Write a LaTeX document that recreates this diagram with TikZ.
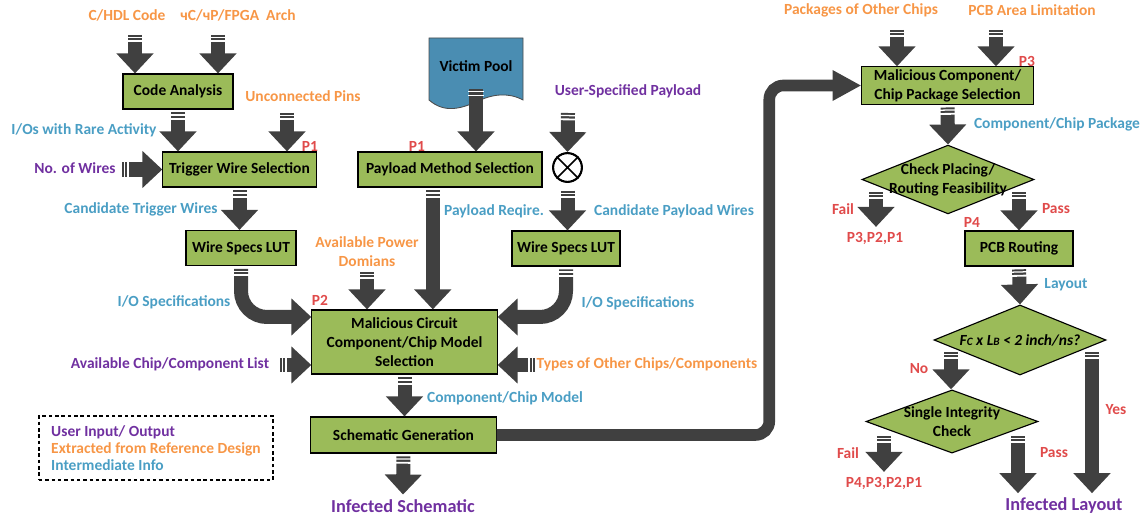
\documentclass[tikz,border=0pt]{standalone}
\usepackage{fontspec}
\setmainfont{Carlito}
\usepackage{xcolor}
\usepackage{tikz}
\usetikzlibrary{shapes,arrows,arrows.meta}
\definecolor{boxgreen}{HTML}{9BBB59}
\definecolor{arrowgray}{HTML}{404040}
\definecolor{userpurple}{HTML}{7030A0}
\definecolor{reforange}{HTML}{F79646}
\definecolor{infoblue}{HTML}{4A9EC4}
\definecolor{tagred}{HTML}{E04B4B}
\definecolor{poolblue}{HTML}{4A8DB2}
\tikzstyle{block} = [rectangle, draw, fill=boxgreen, line width=0.8pt, text centered, align=center, minimum height=0.875cm, inner sep=1pt]
\tikzstyle{decision} = [diamond, draw, fill=boxgreen, line width=0.8pt, align=center, aspect=2.5, inner sep=-7pt, minimum width=4.3cm, minimum height=1.72cm]
\tikzstyle{fat} = [draw=arrowgray, line width=0.35cm, -{Triangle[width=0.9cm,length=0.5cm]}, postaction={draw=white, -, line width=0.4cm, dash pattern=on 0pt off 1.4pt on 0.9pt off 1.6pt on 1.3pt off 200cm}]
\tikzstyle{bus} = [draw=arrowgray, line width=0.29cm, rounded corners=0.35cm, -{Triangle[width=0.72cm,length=0.72cm]}]
\tikzstyle{usertxt} = [text=userpurple]
\tikzstyle{reftxt} = [text=reforange]
\tikzstyle{infotxt} = [text=infoblue]
\tikzstyle{ptxt} = [text=tagred]
\tikzstyle{big} = [font=\bfseries\fontsize{13}{15}\selectfont]

\begin{document}
\begin{tikzpicture}[x=0.025cm, y=-0.025cm, font=\bfseries\fontsize{11}{13.5}\selectfont]
\useasboundingbox (0,0) rectangle (1146,519);

\node [block, minimum width=2.75cm] (code) at (178,91.5) {Code Analysis};
\node [block, minimum width=3.83cm] (trig) at (239.5,169.5) {Trigger Wire Selection};
\node [block, minimum width=2.75cm] (wsl) at (241,248) {Wire Specs LUT};
\node [block, minimum width=4.6cm] (pay) at (450,169.5) {Payload Method Selection};
\node [block, minimum width=2.7cm] (wsr) at (566,248.5) {Wire Specs LUT};
\node [block, minimum width=4.63cm, minimum height=1.6cm] (mal) at (404.5,342) {Malicious Circuit\\Component/Chip Model\\Selection};
\node [block, minimum width=4.63cm, minimum height=0.9cm] (sch) at (403.5,435) {Schematic Generation};
\node [block, minimum width=4.28cm, minimum height=0.93cm] (pkg) at (947.5,85.5) {Malicious Component/\\Chip Package Selection};
\node [block, minimum width=2.7cm] (pcb) at (1019,248.5) {PCB Routing};
\node [decision] (chk) at (948,179.5) {Check Placing/\\Routing Feasibility};
\node [decision, minimum height=1.75cm] (fc) at (1020,340) {\itshape F{\fontsize{8}{9}\selectfont C} x L{\fontsize{8}{9}\selectfont B} < 2 inch/ns?};
\node [decision, minimum height=1.58cm] (sic) at (952,421.5) {Single Integrity\\Check};
\node [circle, draw, line width=1.5pt, minimum size=0.72cm, inner sep=0pt] (mix) at (567.5,167.5) {};
\draw [line width=1.2pt] (mix.north west) -- (mix.south east) (mix.north east) -- (mix.south west);

\path [fill=poolblue, draw=black!70, line width=0.6pt] (429,38) -- (523,38) -- (523,100) .. controls (508,92) and (492,94) .. (476,102) .. controls (462,108) and (445,114) .. (429,100) -- cycle;
\node (pool) at (476,66) {Victim Pool};

\node [reftxt] (hdl) at (127,15) {C/HDL Code};
\node [reftxt] (arch) at (238,15) {чC/чP/FPGA\ \ Arch};
\node [reftxt] (pins) at (303,96) {Unconnected Pins};
\node [infotxt] (rare) at (84,130) {I/Os with Rare Activity};
\node [ptxt] (p1a) at (310,146) {P1};
\node [usertxt] (wires) at (75,168) {No. of Wires};
\node [infotxt] (ctw) at (141,209) {Candidate Trigger Wires};
\node [infotxt] (iosl) at (174,302) {I/O Specifications};
\node [ptxt] (p2) at (320,300) {P2};
\node [usertxt] (list) at (170,364) {Available Chip/Component List};
\node [reftxt, align=center] (pwr) at (367,252) {Available Power\\Domians};
\node [infotxt] (iosr) at (638,303) {I/O Specifications};
\node [reftxt] (types) at (647,364) {Types of Other Chips/Components};
\node [infotxt] (ccm) at (505,398) {Component/Chip Model};
\node [usertxt, big] (infsch) at (403,506) {Infected Schematic};
\node [infotxt] (preq) at (494,211) {Payload Reqire.};
\node [infotxt] (cpw) at (674,211) {Candidate Payload Wires};
\node [usertxt] (usp) at (628,91) {User-Specified Payload};
\node [ptxt] (p1b) at (417,146) {P1};
\node [reftxt] (pkgs) at (861,10) {Packages of Other Chips};
\node [reftxt] (area) at (1032,10) {PCB Area Limitation};
\node [ptxt] (p3) at (1027,61) {P3};
\node [infotxt] (ccp) at (1057,124) {Component/Chip Package};
\node [ptxt] (fail1) at (843,209) {Fail};
\node [ptxt] (back1) at (875,238) {P3,P2,P1};
\node [ptxt] (pass1) at (1056,209) {Pass};
\node [ptxt] (p4) at (972,222) {P4};
\node [infotxt] (lay) at (1066,285) {Layout};
\node [ptxt] (no) at (919,369) {No};
\node [ptxt] (yes) at (1116,410) {Yes};
\node [ptxt] (fail2) at (848,453) {Fail};
\node [ptxt] (pass2) at (1054,453) {Pass};
\node [ptxt] (back2) at (884,483) {P4,P3,P2,P1};
\node [usertxt, big] (inflay) at (1064,506) {Infected Layout};
\node [draw, line width=1.6pt, dash pattern=on 2.5pt off 2pt, align=left, minimum width=5.85cm, minimum height=1.6cm, font=\bfseries\fontsize{11}{12}\selectfont] (legend) at (156,448) {\textcolor{userpurple}{User Input/ Output}\\\textcolor{reforange}{Extracted from Reference Design}\\\textcolor{infoblue}{Intermediate Info}};

\coordinate (hdl-in) at (135,35);
\coordinate (arch-in) at (218,35);
\coordinate (pins-in) at (287,113);
\coordinate (wires-in) at (122,169.5);
\coordinate (pwr-in) at (367,272);
\coordinate (user-in) at (568,113);
\coordinate (list-in) at (280,365);
\coordinate (types-in) at (535,365);
\coordinate (pkgs-in) at (897,30);
\coordinate (area-in) at (996,30);
\coordinate (fail-a) at (876,192);
\coordinate (pass-a) at (1019,192);
\coordinate (no-a) at (951,352);
\coordinate (yes-a) at (1092,352);
\coordinate (fail-b) at (884,436);
\coordinate (pass-b) at (1018,436);

\path [fat] (hdl-in) -- (hdl-in |- code.north);
\path [fat] (arch-in) -- (arch-in |- code.north);
\path [fat, shorten <=2pt] (code.south) -- (code.south |- trig.north);
\path [fat] (pins-in) -- (pins-in |- trig.north);
\path [fat] (wires-in) -- (trig.west);
\path [fat, shorten <=2pt] (trig.south) -- (trig.south |- wsl.north);
\path [fat, rounded corners=0.65cm, shorten <=2pt] (wsl.south) |- ([yshift=0.625cm]mal.west);
\path [fat] (pwr-in) -- (pwr-in |- mal.north);
\path [fat, shorten <=2pt] ([xshift=-0.43cm]pay.south) -- ([xshift=-0.43cm]pay.south |- mal.north);
\path [fat, shorten <=9pt] (pool.south) -- (pool.south |- pay.north);
\path [fat] (user-in) -- (mix.north);
\path [fat, shorten <=5.5pt] (mix.south) -- (mix.south |- wsr.north);
\path [fat, rounded corners=0.65cm, shorten <=2pt] (wsr.south) |- ([yshift=0.625cm]mal.east);
\path [fat] (list-in) -- (list-in -| mal.west);
\path [fat] (types-in) -- (types-in -| mal.east);
\path [fat, shorten <=2pt] (mal.south) -- (mal.south |- sch.north);
\path [fat, shorten <=2pt] (sch.south) -- (infsch.north);
\path [bus] (sch.east) -| ([xshift=-2.3cm]pkg.west) -- (pkg.west);
\path [fat] (pkgs-in) -- (pkgs-in |- pkg.north);
\path [fat] (area-in) -- (area-in |- pkg.north);
\path [fat, shorten <=2pt] (pkg.south) -- (chk.north);
\path [fat] (fail-a) -- (fail-a |- back1.north);
\path [fat] (pass-a) -- (pass-a |- pcb.north);
\path [fat, shorten <=2pt] (pcb.south) -- (fc.north);
\path [fat] (no-a) -- (no-a |- sic.north);
\path [fat] (yes-a) -- (yes-a |- inflay.north);
\path [fat] (fail-b) -- (fail-b |- back2.north);
\path [fat] (pass-b) -- (pass-b |- inflay.north);
\end{tikzpicture}
\end{document}
